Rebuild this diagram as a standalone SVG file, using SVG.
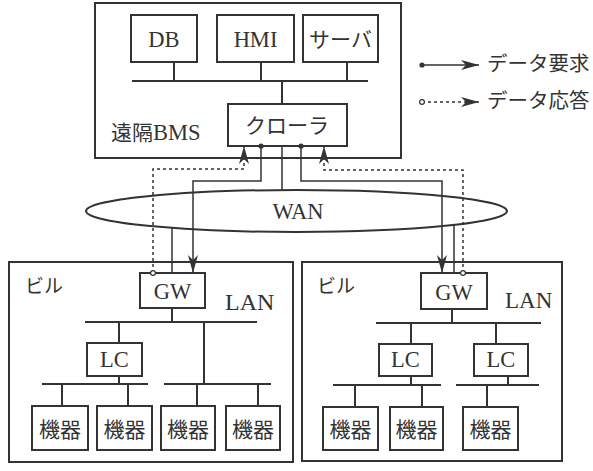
<svg xmlns="http://www.w3.org/2000/svg" width="593" height="471" viewBox="0 0 593 471">
<style>
.box{fill:#fff;stroke:#333;stroke-width:2}
.frame{fill:none;stroke:#333;stroke-width:2}
.ln{fill:none;stroke:#333;stroke-width:2}
.cn{fill:none;stroke:#333;stroke-width:1.5}
.dash{fill:none;stroke:#333;stroke-width:1.5;stroke-dasharray:3 3}
.lat{font-family:"Liberation Serif","DejaVu Serif",serif;font-size:22.5px;fill:#333;text-anchor:middle}
.jp{font-family:"Noto Sans CJK JP","Noto Sans",sans-serif;font-size:21px;fill:#333;text-anchor:middle}
</style>
<defs>
<marker id="arr" markerUnits="userSpaceOnUse" markerWidth="20" markerHeight="12" refX="18" refY="5" orient="auto" viewBox="0 0 20 10">
<path d="M0,0 L18,5 L0,10 L5,5 z" fill="#333"/>
</marker>
<marker id="dot" markerUnits="userSpaceOnUse" markerWidth="8" markerHeight="8" refX="4" refY="4" viewBox="0 0 8 8">
<circle cx="4" cy="4" r="2.6" fill="#333"/>
</marker>
<marker id="ring" markerUnits="userSpaceOnUse" markerWidth="8" markerHeight="8" refX="4" refY="4" viewBox="0 0 8 8">
<circle cx="4" cy="4" r="2.4" fill="#fff" stroke="#333" stroke-width="1.2"/>
</marker>
</defs>
<rect width="593" height="471" fill="#fff"/>

<g id="bms">
<rect class="frame" x="95" y="3" width="306" height="155"/>
<text x="111" y="140" font-size="21" fill="#333"><tspan font-family="Noto Sans CJK JP, sans-serif">遠隔</tspan><tspan font-family="Liberation Serif, serif" font-size="22.5">BMS</tspan></text>
<line class="ln" x1="132" y1="81" x2="368" y2="81"/>
<line class="ln" x1="174" y1="62" x2="174" y2="81"/>
<line class="ln" x1="261" y1="62" x2="261" y2="81"/>
<line class="ln" x1="347" y1="62" x2="347" y2="81"/>
<line class="ln" x1="282" y1="81" x2="282" y2="104"/>
</g>
<g id="db"><rect class="box" x="131" y="15" width="66" height="47"/><text class="lat" x="164" y="47">DB</text></g>
<g id="hmi"><rect class="box" x="217" y="15" width="77" height="47"/><text class="lat" x="255.5" y="47">HMI</text></g>
<g id="server"><rect class="box" x="303" y="15" width="75" height="47"/><text class="jp" x="340.5" y="46.5">サーバ</text></g>
<g id="crawler"><rect class="box" x="228" y="104" width="119" height="42"/><text class="jp" x="287" y="133">クローラ</text></g>

<g id="wan">
<ellipse cx="296.5" cy="211" rx="210.5" ry="21" fill="none" stroke="#333" stroke-width="2"/>
<text class="lat" x="298" y="218.5">WAN</text>
</g>

<g id="building1">
<rect class="frame" x="9" y="262" width="284" height="200"/>
<text x="25" y="293" font-family="Noto Sans CJK JP, sans-serif" font-size="19" fill="#333">ビル</text>
<text x="225" y="310" font-family="Liberation Serif, serif" font-size="24" fill="#333">LAN</text>
<line class="ln" x1="85" y1="322" x2="257" y2="322"/>
<line class="ln" x1="172" y1="308" x2="172" y2="322"/>
<line class="ln" x1="119" y1="322" x2="119" y2="343"/>
<line class="ln" x1="204" y1="322" x2="204" y2="384"/>
<line class="ln" x1="119" y1="376" x2="119" y2="384"/>
<line class="ln" x1="42" y1="384" x2="148" y2="384"/>
<line class="ln" x1="164" y1="384" x2="271" y2="384"/>
<line class="ln" x1="62" y1="384" x2="62" y2="406"/>
<line class="ln" x1="128" y1="384" x2="128" y2="406"/>
<line class="ln" x1="197" y1="384" x2="197" y2="406"/>
<line class="ln" x1="258" y1="384" x2="258" y2="406"/>
</g>
<g id="gw1"><rect class="box" x="140" y="273" width="65" height="35"/><text class="lat" x="172.5" y="298.5">GW</text></g>
<g id="lc1"><rect class="box" x="87" y="343" width="55" height="33"/><text class="lat" x="114.5" y="367">LC</text></g>
<g id="dev1"><rect class="box" x="32" y="406" width="56" height="44"/><text class="jp" x="60" y="437">機器</text></g>
<g id="dev2"><rect class="box" x="97" y="406" width="55" height="44"/><text class="jp" x="124.5" y="437">機器</text></g>
<g id="dev3"><rect class="box" x="161" y="406" width="54" height="44"/><text class="jp" x="188" y="437">機器</text></g>
<g id="dev4"><rect class="box" x="226" y="406" width="54" height="44"/><text class="jp" x="253" y="437">機器</text></g>

<g id="building2">
<rect class="frame" x="302" y="262" width="260" height="199"/>
<text x="317" y="293" font-family="Noto Sans CJK JP, sans-serif" font-size="19" fill="#333">ビル</text>
<text x="505" y="308" font-family="Liberation Serif, serif" font-size="23" fill="#333">LAN</text>
<line class="ln" x1="376" y1="323" x2="541" y2="323"/>
<line class="ln" x1="452" y1="309" x2="452" y2="323"/>
<line class="ln" x1="411" y1="323" x2="411" y2="344"/>
<line class="ln" x1="496" y1="323" x2="496" y2="344"/>
<line class="ln" x1="411" y1="376" x2="411" y2="385"/>
<line class="ln" x1="508" y1="376" x2="508" y2="385"/>
<line class="ln" x1="333" y1="385" x2="441" y2="385"/>
<line class="ln" x1="456" y1="385" x2="539" y2="385"/>
<line class="ln" x1="355" y1="385" x2="355" y2="407"/>
<line class="ln" x1="422" y1="385" x2="422" y2="407"/>
<line class="ln" x1="487" y1="385" x2="487" y2="407"/>
</g>
<g id="gw2"><rect class="box" x="421" y="273" width="66" height="36"/><text class="lat" x="454" y="299.5">GW</text></g>
<g id="lc2"><rect class="box" x="379" y="344" width="53" height="32"/><text class="lat" x="405.5" y="367">LC</text></g>
<g id="lc3"><rect class="box" x="474" y="344" width="54" height="32"/><text class="lat" x="501" y="367">LC</text></g>
<g id="dev5"><rect class="box" x="323" y="407" width="55" height="43"/><text class="jp" x="350.5" y="437">機器</text></g>
<g id="dev6"><rect class="box" x="390" y="407" width="53" height="43"/><text class="jp" x="416.5" y="437">機器</text></g>
<g id="dev7"><rect class="box" x="463" y="407" width="55" height="43"/><text class="jp" x="490.5" y="437">機器</text></g>

<g id="connectors">
<path class="cn" d="M282,146 V190"/>
<path class="cn" d="M172,228 V273"/>
<path class="cn" d="M454,225 V273"/>
<path class="cn" d="M261,146 V181 H193 V273" marker-start="url(#dot)" marker-end="url(#arr)"/>
<path class="cn" d="M301,146 V181 H442 V273" marker-start="url(#dot)" marker-end="url(#arr)"/>
<path class="dash" d="M153,273 V169 H244 V146" marker-start="url(#ring)" marker-end="url(#arr)"/>
<path class="dash" d="M463,273 V170 H324 V146" marker-start="url(#ring)" marker-end="url(#arr)"/>
</g>

<g id="legend">
<path class="cn" d="M422,65 H479" marker-start="url(#dot)" marker-end="url(#arr)"/>
<path class="dash" d="M422,102 H479" marker-start="url(#ring)" marker-end="url(#arr)"/>
<text x="487" y="71" font-family="Noto Sans CJK JP, sans-serif" font-size="20.5" fill="#333">データ要求</text>
<text x="487" y="108" font-family="Noto Sans CJK JP, sans-serif" font-size="20.5" fill="#333">データ応答</text>
</g>
</svg>
